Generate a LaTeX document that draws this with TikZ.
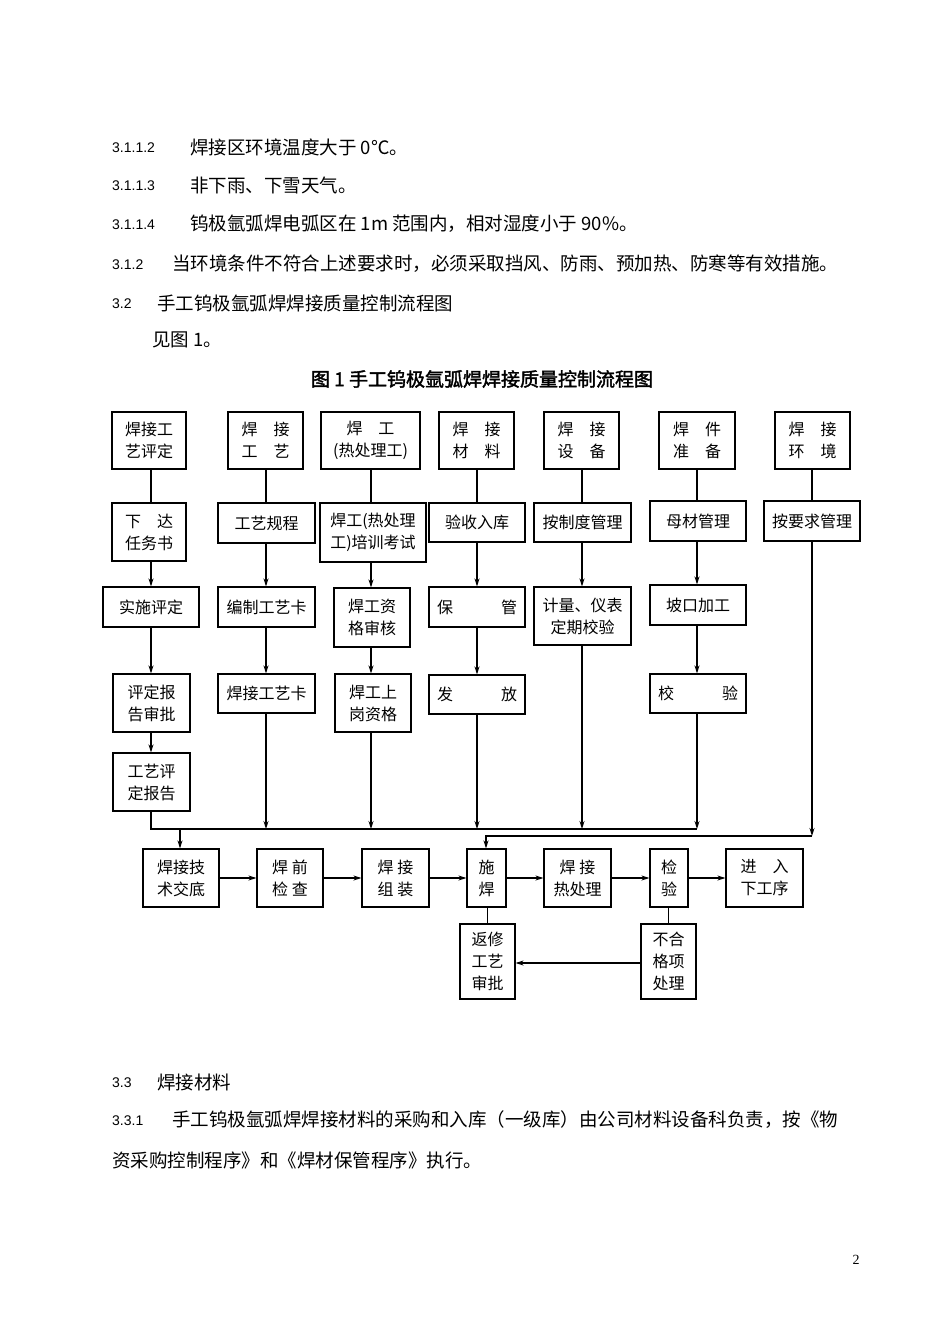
\documentclass[tikz,border=0pt]{standalone}
\usepackage{fontspec}
\setmainfont{Liberation Serif}
\newfontfamily\cjk{Noto Sans CJK SC}
\newfontfamily\cjkb{Noto Sans CJK SC}[FakeBold=2]
\newfontfamily\num{Liberation Sans}
\usetikzlibrary{arrows.meta}
\tikzset{box/.style={draw,line width=1.1pt,inner sep=0pt,align=center,font=\cjk\fontsize{16}{22}\selectfont},
 ln/.style={line width=1.1pt},
 arr/.style={line width=1.1pt,-{Stealth[length=8pt,width=5pt]}},
 body/.style={anchor=west,inner sep=0pt,font=\cjk\fontsize{18.5}{20}\selectfont},
 nm/.style={anchor=west,inner sep=0pt,font=\num\fontsize{14}{16}\selectfont}}
\newcommand\bx[6]{\node[box,minimum width={#4-#2},minimum height={#5-#3}] (#1) at ({(#2+#4)/2},{(#3+#5)/2}) {#6};}
\begin{document}
\begin{tikzpicture}[x=1pt,y=-1pt]
\useasboundingbox (0,0) rectangle (950,1344);
% body text
\node[nm] (n1) at (112,148) {3.1.1.2}; \node[body] (t1) at (190,147) {焊接区环境温度大于 0℃。};
\node[nm] (n2) at (112,186) {3.1.1.3}; \node[body] (t2) at (190,185) {非下雨、下雪天气。};
\node[nm] (n3) at (112,225) {3.1.1.4}; \node[body] (t3) at (190,224) {钨极氩弧焊电弧区在 1m 范围内，相对湿度小于 90\%。};
\node[nm] (n4) at (112,265) {3.1.2}; \node[body] (t4) at (172,264) {当环境条件不符合上述要求时，必须采取挡风、防雨、预加热、防寒等有效措施。};
\node[nm] (n5) at (112,304) {3.2}; \node[body] (t5) at (157,303) {手工钨极氩弧焊焊接质量控制流程图};
\node[body] (t6) at (152,340) {见图 1。};
\node[inner sep=0pt,font=\cjkb\fontsize{19}{20}\selectfont] (title) at (482,379) {图 1 手工钨极氩弧焊焊接质量控制流程图};
\node[nm] (n7) at (112,1083) {3.3}; \node[body] (t7) at (157,1082) {焊接材料};
\node[nm] (n8) at (112,1121) {3.3.1}; \node[body] (t8) at (172,1120) {手工钨极氩弧焊焊接材料的采购和入库（一级库）由公司材料设备科负责，按《物};
\node[body] (t9) at (112,1160) {资采购控制程序》和《焊材保管程序》执行。};
\node[inner sep=0pt,font=\fontsize{14}{16}\selectfont] (pg) at (856,1260) {2};
% row 1
\bx{a1}{112}{412}{186}{469}{焊接工\\艺评定}
\bx{b1}{228}{412}{303}{469}{焊\quad 接\\工\quad 艺}
\bx{c1}{321}{412}{420}{469}{焊\quad 工\\(热处理工)}
\bx{d1}{439}{412}{514}{469}{焊\quad 接\\材\quad 料}
\bx{e1}{544}{412}{619}{469}{焊\quad 接\\设\quad 备}
\bx{f1}{659}{412}{735}{469}{焊\quad 件\\准\quad 备}
\bx{g1}{775}{412}{850}{469}{焊\quad 接\\环\quad 境}
% row 2
\bx{a2}{112}{503}{186}{561}{下\quad 达\\任务书}
\bx{b2}{218}{503}{315}{543}{工艺规程}
\bx{c2}{320}{503}{426}{562}{焊工(热处理\\工)培训考试}
\bx{d2}{429}{503}{525}{542}{验收入库}
\bx{e2}{534}{503}{631}{542}{按制度管理}
\bx{f2}{650}{501}{746}{541}{母材管理}
\bx{g2}{764}{501}{860}{541}{按要求管理}
% row 3
\bx{a3}{103}{587}{199}{627}{实施评定}
\bx{b3}{218}{587}{315}{627}{编制工艺卡}
\bx{c3}{334}{588}{410}{647}{焊工资\\格审核}
\bx{d3}{429}{587}{525}{627}{保\qquad\quad 管}
\bx{e3}{534}{587}{631}{645}{计量、仪表\\定期校验}
\bx{f3}{650}{585}{746}{625}{坡口加工}
% row 4
\bx{a4}{113}{674}{190}{732}{评定报\\告审批}
\bx{b4}{218}{674}{315}{713}{焊接工艺卡}
\bx{c4}{335}{674}{411}{732}{焊工上\\岗资格}
\bx{d4}{429}{675}{525}{714}{发\qquad\quad 放}
\bx{f4}{650}{674}{746}{713}{校\qquad\quad 验}
% row 5
\bx{a5}{113}{753}{190}{811}{工艺评\\定报告}
% bottom row
\bx{p1}{143}{849}{219}{907}{焊接技\\术交底}
\bx{p2}{257}{849}{323}{907}{焊\ 前\\检\ 查}
\bx{p3}{362}{849}{429}{907}{焊\ 接\\组\ 装}
\bx{p4}{467}{849}{506}{907}{施\\焊}
\bx{p5}{544}{849}{611}{907}{焊\ 接\\热处理}
\bx{p6}{650}{849}{688}{907}{检\\验}
\bx{p7}{726}{849}{803}{907}{进\quad 入\\下工序}
\bx{q1}{460}{924}{515}{999}{返修\\工艺\\审批}
\bx{q2}{641}{924}{696}{999}{不合\\格项\\处理}
% column connectors
\draw[ln] (a1.south -| 151,0) -- (a2.north -| 151,0);
\draw[ln] (b1.south -| 266,0) -- (b2.north -| 266,0);
\draw[ln] (c1.south -| 371,0) -- (c2.north -| 371,0);
\draw[ln] (d1.south -| 477,0) -- (d2.north -| 477,0);
\draw[ln] (e1.south -| 582,0) -- (e2.north -| 582,0);
\draw[ln] (f1.south -| 697,0) -- (f2.north -| 697,0);
\draw[ln] (g1.south -| 812,0) -- (g2.north -| 812,0);
\draw[arr] (a2.south -| 151,0) -- (a3.north -| 151,0);
\draw[arr] (a3.south -| 151,0) -- (a4.north -| 151,0);
\draw[arr] (a4.south -| 151,0) -- (a5.north -| 151,0);
\draw[arr] (b2.south -| 266,0) -- (b3.north -| 266,0);
\draw[arr] (b3.south -| 266,0) -- (b4.north -| 266,0);
\draw[arr] (c2.south -| 371,0) -- (c3.north -| 371,0);
\draw[arr] (c3.south -| 371,0) -- (c4.north -| 371,0);
\draw[arr] (d2.south -| 477,0) -- (d3.north -| 477,0);
\draw[arr] (d3.south -| 477,0) -- (d4.north -| 477,0);
\draw[arr] (e2.south -| 582,0) -- (e3.north -| 582,0);
\draw[arr] (f2.south -| 697,0) -- (f3.north -| 697,0);
\draw[arr] (f3.south -| 697,0) -- (f4.north -| 697,0);
% to collection line
\coordinate (J) at (151,829);
\coordinate (JE) at (697,829);
\draw[ln] (a5.south -| 151,0) -- (J) -- (JE);
\draw[arr] (b4.south -| 266,0) -- (266,829);
\draw[arr] (c4.south -| 371,0) -- (371,829);
\draw[arr] (d4.south -| 477,0) -- (477,829);
\draw[arr] (e3.south -| 582,0) -- (582,829);
\draw[arr] (f4.south -| 697,0) -- (697,829);
\draw[arr] (180,829) -- (p1.north -| 180,0);
\coordinate (K) at (812,836);
\draw[arr] (g2.south -| 812,0) -- (K);
\draw[arr] (K) -- (486,836) -- (p4.north -| 486,0);
% bottom chain
\draw[arr] (p1) -- (p2);
\draw[arr] (p2) -- (p3);
\draw[arr] (p3) -- (p4);
\draw[arr] (p4) -- (p5);
\draw[arr] (p5) -- (p6);
\draw[arr] (p6) -- (p7);
\draw[ln] (p4.south -| q1.north) -- (q1.north);
\draw[ln] (p6.south -| q2.north) -- (q2.north);
\draw[arr] (q2.west |- 0,963) -- (q1.east |- 0,963);
\end{tikzpicture}
\end{document}
